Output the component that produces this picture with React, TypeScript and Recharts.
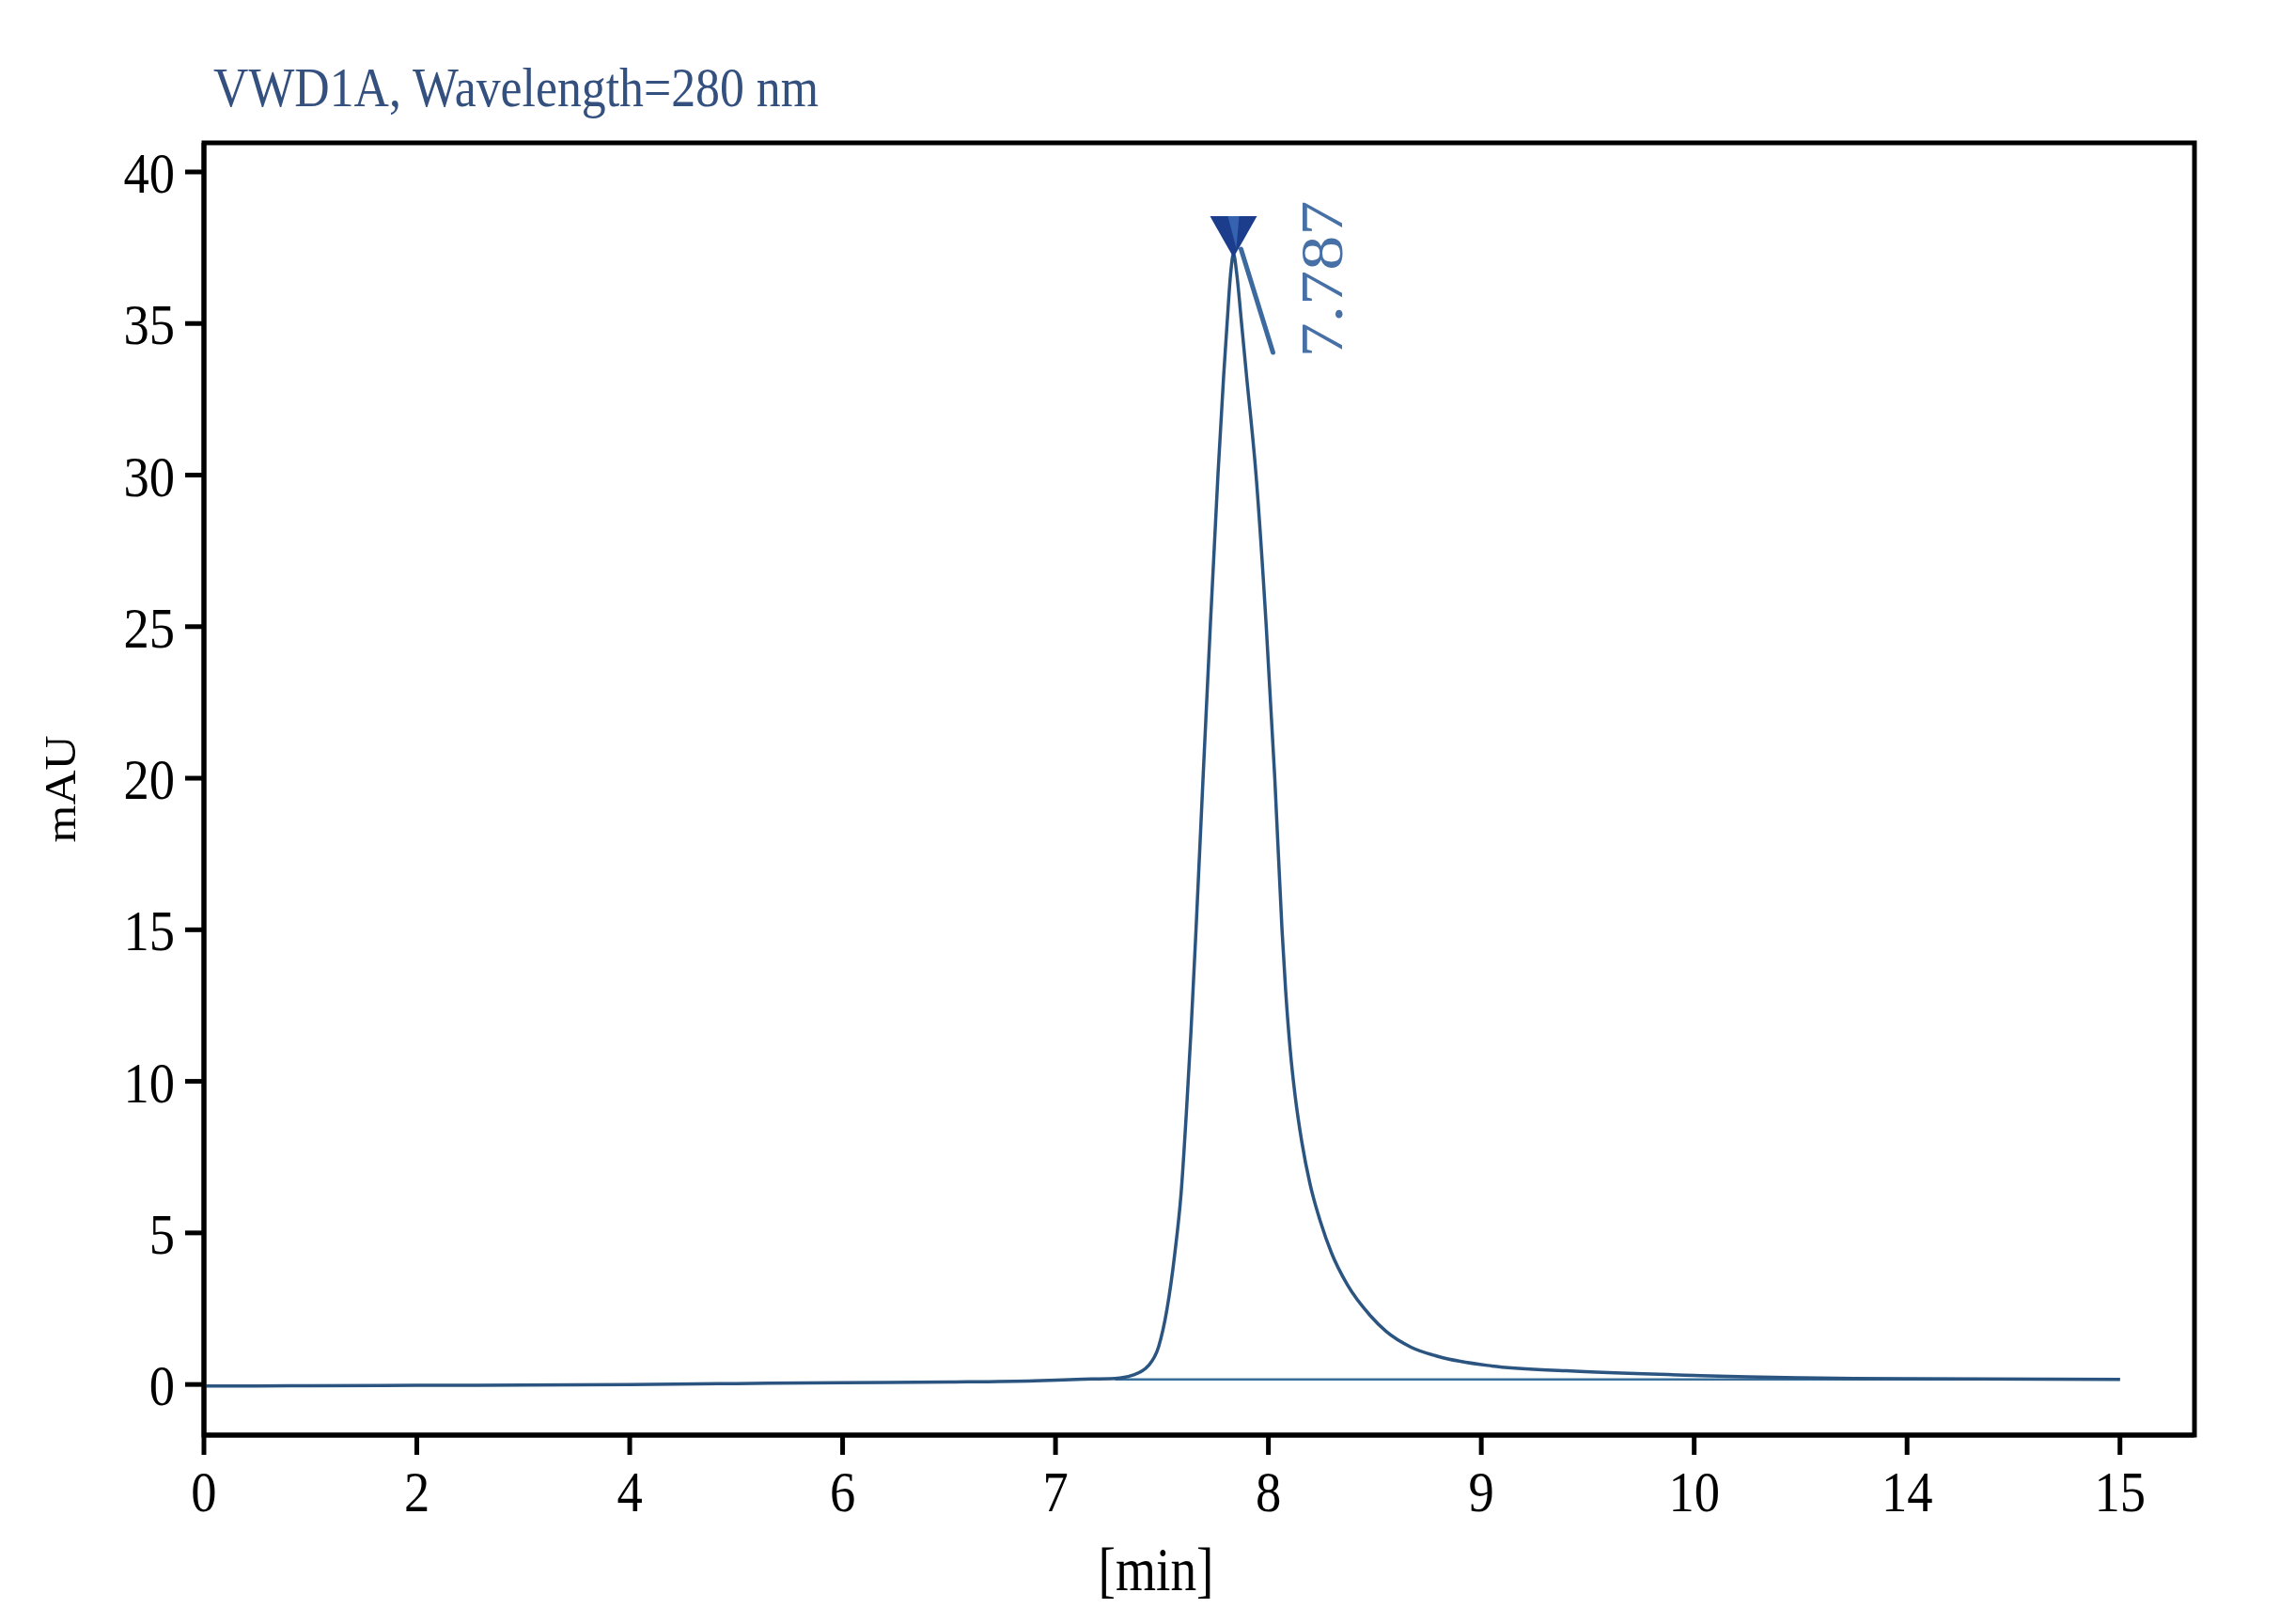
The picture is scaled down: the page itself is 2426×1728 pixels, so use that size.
import { LineChart, Line, XAxis, YAxis, ReferenceArea, ReferenceDot } from "recharts";

const SERIF = '"Liberation Serif", "Times New Roman", serif';

// x axis of the report is split into equal-width segments between these times
const TICK_TIMES = [0, 2, 4, 6, 7, 8, 9, 10, 14, 15];
const TICK_LABELS = ["0", "2", "4", "6", "7", "8", "9", "10", "14", "15"];
const Y_TICKS = [0, 5, 10, 15, 20, 25, 30, 35, 40];

const SIGNAL_TIMES = [
  0, 0.5, 1, 2, 3, 4, 5, 6, 6.5, 6.9, 7.1, 7.28, 7.36, 7.436, 7.484, 7.524,
  7.56, 7.591, 7.615, 7.636, 7.66, 7.693, 7.727, 7.763, 7.79, 7.806, 7.822, 7.836,
  7.852, 7.874, 7.897, 7.942, 7.99, 8.03, 8.064, 8.081, 8.103, 8.126, 8.157, 8.196,
  8.245, 8.297, 8.37, 8.48, 8.553, 8.67, 8.8, 9.05, 9.4, 10, 11, 12, 13, 14, 15,
];
const SIGNAL_MAU = [
  -0.05, -0.05, -0.04, -0.03, -0.02, 0, 0.03, 0.06, 0.08, 0.12, 0.17, 0.2, 0.3, 0.62, 1.24, 2.5,
  4.3, 6.4, 9.0, 11.6, 15, 20, 25, 30, 33.3, 35, 36.6, 37.3,
  36.6, 35, 33.3, 30, 25, 20, 15, 13, 11, 9.5, 8.0, 6.6,
  5.36, 4.33, 3.3, 2.26, 1.75, 1.23, 0.92, 0.61, 0.45, 0.3, 0.25, 0.22, 0.2, 0.19, 0.17,
];

const BASELINE_TIMES = [7.28, 15];
const BASELINE_MAU = [0.17, 0.17];

const PEAK_RT = 7.787;
const PEAK_APEX_TIME = 7.836;
const PEAK_APEX_MAU = 37.3;

const X_MAX = 9.35;
const Y_MIN = -1.67;
const Y_MAX = 40.96;

const toAxis = (t: number) => {
  for (let i = 0; i < TICK_TIMES.length - 1; i++) {
    const a = TICK_TIMES[i];
    const b = TICK_TIMES[i + 1];
    if (t <= b) return i + (t - a) / (b - a);
  }
  return TICK_TIMES.length - 1;
};

const signalData = SIGNAL_TIMES.map((t, i) => ({ p: toAxis(t), mAU: SIGNAL_MAU[i] }));
const baselineData = BASELINE_TIMES.map((t, i) => ({ p: toAxis(t), mAU: BASELINE_MAU[i] }));

const YTick = ({ x, y, payload }: any) => (
  <g transform={`translate(${x},${y})`}>
    <text x={0} y={22} textAnchor="end" fontSize={62} fill="#000" fontFamily={SERIF} transform="scale(0.88,1)">
      {payload.value}
    </text>
  </g>
);

const XTick = ({ x, y, payload }: any) => (
  <g transform={`translate(${x},${y})`}>
    <text x={0} y={41} textAnchor="middle" fontSize={62} fill="#000" fontFamily={SERIF} transform="scale(0.88,1)">
      {TICK_LABELS[payload.value]}
    </text>
  </g>
);

const XLabel = ({ viewBox }: any) => (
  <text
    x={viewBox.x + viewBox.width / 2 - 46}
    y={viewBox.y + 165}
    textAnchor="middle"
    fontSize={66}
    fill="#000"
    fontFamily={SERIF}
    textLength={123}
    lengthAdjust="spacingAndGlyphs"
  >
    [min]
  </text>
);

const YLabel = ({ viewBox }: any) => {
  const cx = viewBox.x + 13;
  const cy = viewBox.y + viewBox.height / 2;
  return (
    <text
      x={cx}
      y={cy}
      transform={`rotate(-90, ${cx}, ${cy})`}
      textAnchor="middle"
      fontSize={46}
      fill="#000"
      fontFamily={SERIF}
      textLength={114}
      lengthAdjust="spacingAndGlyphs"
    >
      mAU
    </text>
  );
};

const PeakMarker = ({ cx, cy }: any) => (
  <g>
    <line x1={cx + 8} y1={cy - 5} x2={cx + 42} y2={cy + 105} stroke="#3d6a9e" strokeWidth={5} strokeLinecap="round" />
    <polygon points={`${cx - 25},${cy - 40} ${cx + 25},${cy - 40} ${cx},${cy + 4}`} fill="#1c3d8c" />
    <polygon points={`${cx - 6},${cy - 40} ${cx + 6},${cy - 40} ${cx + 3},${cy - 6}`} fill="#3563b0" />
    <text
      transform={`translate(${cx + 95},${cy + 27}) rotate(-90)`}
      x={0}
      y={21}
      textAnchor="middle"
      fontSize={64}
      fill="#4670a6"
      fontFamily={SERIF}
      textLength={167}
      lengthAdjust="spacingAndGlyphs"
    >
      {PEAK_RT.toFixed(3)}
    </text>
  </g>
);

export default function App() {
  return (
    <div style={{ position: "relative", width: 2410, height: 1712, background: "#fff" }}>
      <LineChart width={2410} height={1712} margin={{ top: 144, right: 83, left: 59, bottom: 23 }}>
        <XAxis
          dataKey="p"
          type="number"
          domain={[0, X_MAX]}
          allowDataOverflow
          ticks={TICK_TIMES.map((_, i) => i)}
          tick={<XTick />}
          tickSize={21}
          tickMargin={19}
          height={170}
          axisLine={{ stroke: "#000", strokeWidth: 5 }}
          tickLine={{ stroke: "#000", strokeWidth: 5 }}
          label={XLabel}
        />
        <YAxis
          type="number"
          domain={[Y_MIN, Y_MAX]}
          allowDataOverflow
          ticks={Y_TICKS}
          tick={<YTick />}
          tickSize={20}
          tickMargin={11}
          width={150}
          axisLine={{ stroke: "#000", strokeWidth: 5 }}
          tickLine={{ stroke: "#000", strokeWidth: 5 }}
          label={YLabel}
        />
        <ReferenceArea x1={0} x2={X_MAX} y1={Y_MIN} y2={Y_MAX} fill="none" stroke="#000" strokeWidth={5} />
        <Line
          data={baselineData}
          dataKey="mAU"
          type="linear"
          stroke="#3a6e9a"
          strokeWidth={2.5}
          dot={false}
          isAnimationActive={false}
        />
        <Line
          data={signalData}
          dataKey="mAU"
          type="monotone"
          stroke="#2b5580"
          strokeWidth={3.5}
          dot={false}
          isAnimationActive={false}
        />
        <ReferenceDot x={toAxis(PEAK_APEX_TIME)} y={PEAK_APEX_MAU} r={0} shape={PeakMarker} />
      </LineChart>
      <svg width={2410} height={200} style={{ position: "absolute", left: 0, top: 0, pointerEvents: "none" }}>
        <text
          x={219}
          y={105}
          fontSize={60}
          fill="#34507f"
          fontFamily={SERIF}
          textLength={644}
          lengthAdjust="spacingAndGlyphs"
        >
          VWD1A, Wavelength=280 nm
        </text>
      </svg>
    </div>
  );
}
